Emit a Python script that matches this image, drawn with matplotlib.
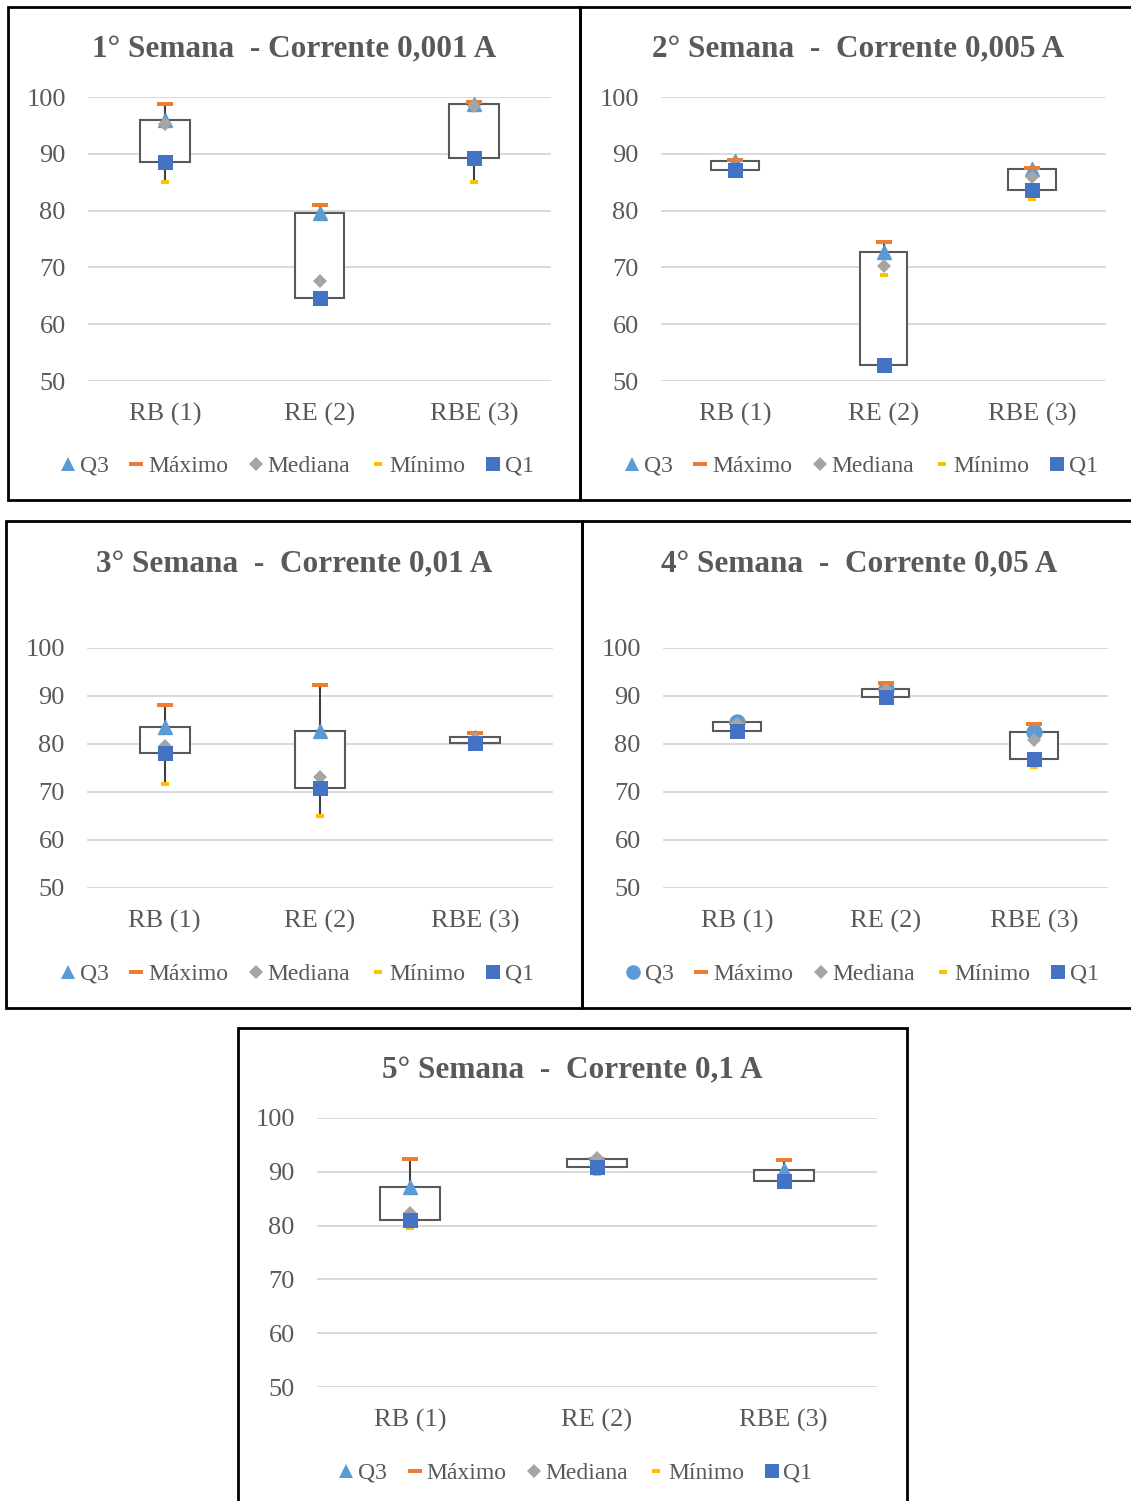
import matplotlib
matplotlib.use('Agg')
import matplotlib.pyplot as plt
from matplotlib.lines import Line2D
from matplotlib.patches import Rectangle
import numpy as np

plt.rcParams['font.family'] = ['Liberation Serif', 'DejaVu Serif']

# ---------------- data ----------------
categorias = ['RB (1)', 'RE (2)', 'RBE (3)']
titulos = ['1° Semana  - Corrente 0,001 A',
           '2° Semana  -  Corrente 0,005 A',
           '3° Semana  -  Corrente 0,01 A',
           '4° Semana  -  Corrente 0,05 A',
           '5° Semana  -  Corrente 0,1 A']
series_nomes = ['Q3', 'Máximo', 'Mediana', 'Mínimo', 'Q1']
yticks = [50, 60, 70, 80, 90, 100]

# one row per week (semana), one value per category
q3 = [[95.9, 79.5, 98.7],
      [88.8, 72.7, 87.3],
      [83.6, 82.8, 81.4],
      [84.6, 91.5, 82.6],
      [87.2, 92.3, 90.4]]
maximo = [[98.7, 80.9, 99.2],
          [88.9, 74.5, 87.5],
          [88.2, 92.2, 82.2],
          [84.4, 92.8, 84.1],
          [92.3, 92.3, 92.2]]
mediana = [[95.2, 67.6, 98.4],
           [87.3, 70.3, 85.9],
           [79.5, 73.2, 81.0],
           [84.2, 91.3, 80.9],
           [82.3, 92.6, 88.3]]
minimo = [[85.0, 64.5, 85.0],
          [86.9, 68.6, 82.0],
          [71.7, 65.1, 80.1],
          [82.7, 89.6, 75.2],
          [79.6, 89.5, 88.0]]
q1 = [[88.6, 64.7, 89.2],
      [87.1, 52.9, 83.7],
      [78.1, 70.9, 80.3],
      [82.8, 89.7, 76.9],
      [81.1, 90.9, 88.2]]

# ---------------- styling ----------------
W, H = 1131, 1501
fig = plt.figure(figsize=(W / 100, H / 100), dpi=100)

c_q3, c_max, c_med, c_min, c_q1 = '#5B9BD5', '#ED7D31', '#A5A5A5', '#FFC000', '#4472C4'
txt_col = '#595959'
dash_big = [(-1, -0.31), (1, -0.31), (1, 0.31), (-1, 0.31), (-1, -0.31)]
dash_small = [(-1, -0.55), (1, -0.55), (1, 0.55), (-1, 0.55), (-1, -0.55)]

# pixel layout: border box, plot box, title y, legend y, Q3 marker
panels = [
    dict(border=(8, 7, 580, 500), axes=(88, 97, 551, 381), ty=50, ly=466, m='^'),
    dict(border=(580, 7, 1136, 500), axes=(661, 97, 1106, 381), ty=50, ly=466, m='^'),
    dict(border=(6, 521, 582, 1008), axes=(87, 648, 553, 888), ty=565, ly=974, m='^'),
    dict(border=(582, 521, 1136, 1008), axes=(663, 648, 1108, 888), ty=565, ly=974, m='o'),
    dict(border=(238, 1028, 907, 1515), axes=(317, 1118, 877, 1387), ty=1071, ly=1473, m='^'),
]


def rect(x0, y0, x1, y1):
    return [x0 / W, 1 - y1 / H, (x1 - x0) / W, (y1 - y0) / H]


x = np.arange(len(categorias))

for i, p in enumerate(panels):
    bx0, by0, bx1, by1 = p['border']
    fig.add_artist(Rectangle((bx0 / W, 1 - by1 / H), (bx1 - bx0) / W, (by1 - by0) / H,
                             transform=fig.transFigure, fill=False, ec='black', lw=2.0))
    ax = fig.add_axes(rect(*p['axes']))
    ax.set_xlim(-0.5, 2.5)
    ax.set_ylim(50, 100)
    ax.set_yticks(yticks)
    ax.set_xticks(x)
    ax.set_xticklabels(categorias)
    for s in ax.spines.values():
        s.set_visible(False)
    ax.yaxis.grid(True, color='#D9D9D9', lw=1.4)
    ax.set_axisbelow(True)
    ax.tick_params(axis='y', length=0, pad=16, labelsize=19, labelcolor=txt_col)
    ax.tick_params(axis='x', length=0, pad=15.5, labelsize=19, labelcolor=txt_col)

    hi = np.max([q3[i], maximo[i], mediana[i], minimo[i], q1[i]], axis=0)
    lo = np.min([q3[i], maximo[i], mediana[i], minimo[i], q1[i]], axis=0)
    ax.vlines(x, lo, hi, color='#404040', lw=1.5, zorder=2)
    ax.bar(x, np.array(q3[i]) - np.array(q1[i]), bottom=q1[i], width=0.32,
           color='white', edgecolor=txt_col, linewidth=1.5, zorder=3)

    qm = p['m']
    qms = 10.8 if qm == 'o' else 10.5
    ax.plot(x, q3[i], ls='None', marker=qm, ms=qms, color=c_q3, mec=c_q3, zorder=4, clip_on=False)
    ax.plot(x, maximo[i], ls='None', marker=dash_big, ms=11, color=c_max, mec=c_max, mew=0, zorder=5, clip_on=False)
    ax.plot(x, mediana[i], ls='None', marker='D', ms=7.6, color=c_med, mec=c_med, mew=0, zorder=6, clip_on=False)
    ax.plot(x, minimo[i], ls='None', marker=dash_small, ms=6.3, color=c_min, mec=c_min, mew=0, zorder=7, clip_on=False)
    ax.plot(x, q1[i], ls='None', marker='s', ms=10.8, color=c_q1, mec=c_q1, mew=0, zorder=8, clip_on=False)

    cx = (bx0 + bx1) / 2
    fig.text(cx / W, 1 - p['ty'] / H, titulos[i], ha='center', va='center',
             fontsize=22.5, fontweight='bold', color=txt_col)

    handles = [
        Line2D([], [], ls='None', marker=qm, ms=(10.5 if qm == 'o' else 10), color=c_q3, mew=0),
        Line2D([], [], ls='None', marker=dash_big, ms=10.5, color=c_max, mew=0),
        Line2D([], [], ls='None', marker='D', ms=6.8, color=c_med, mew=0),
        Line2D([], [], ls='None', marker=dash_small, ms=6, color=c_min, mew=0),
        Line2D([], [], ls='None', marker='s', ms=10, color=c_q1, mew=0),
    ]
    ax.legend(handles, series_nomes, loc='center', bbox_to_anchor=((cx + 3) / W, 1 - p['ly'] / H),
              bbox_transform=fig.transFigure, ncol=5, frameon=False, fontsize=17,
              labelcolor=txt_col, numpoints=1, handlelength=0.65, handletextpad=0.17,
              columnspacing=0.85, borderpad=0, borderaxespad=0)

fig.savefig('out.png', dpi=100, facecolor='white')
